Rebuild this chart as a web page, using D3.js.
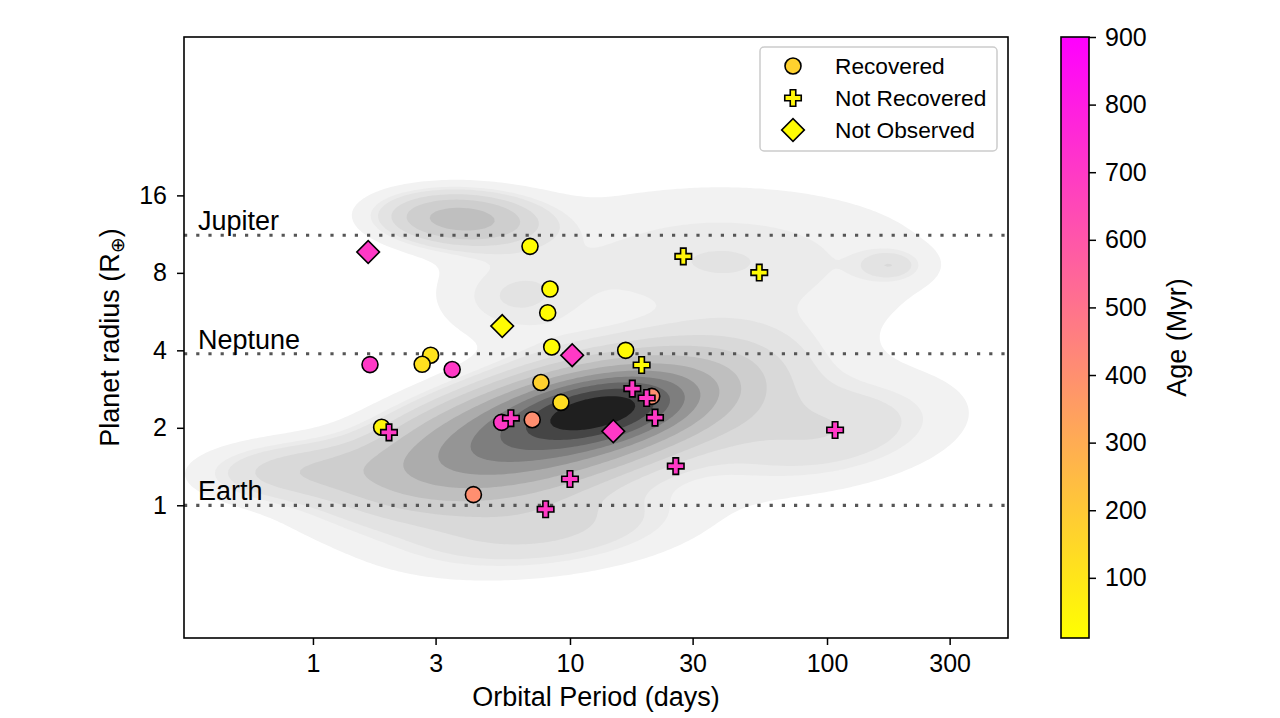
<!DOCTYPE html>
<html><head><meta charset="utf-8">
<script src="https://cdn.jsdelivr.net/npm/d3@7"></script>
<style>
body{margin:0;background:#fff}
text{font-family:"Liberation Sans",Arial,Helvetica,sans-serif;fill:#000}
</style>
</head><body>
<svg id="chart" width="1280" height="718"></svg>
<script>
// ---------------- data ----------------
const periodTicks = [1, 3, 10, 30, 100, 300];
const radiusTicks = [1, 2, 4, 8, 16];
const ageTicks = [100, 200, 300, 400, 500, 600, 700, 800, 900];
const ageRange = [11, 900];
const periodDomain = [0.315, 506];
const radiusDomain = [0.305, 66];

const refNames = ["Jupiter", "Neptune", "Earth"];
const refRadii = [11.2, 3.88, 1.0];

// Recovered (circles)
const recPeriod = [7.71, 6.99, 8.36, 8.19, 8.49, 16.47, 9.22, 2.87, 2.66, 1.667, 3.48, 1.85, 5.42, 7.13, 4.21, 20.8];
const recRadius = [3.00, 10.14, 6.92, 5.60, 4.12, 4.00, 2.51, 3.83, 3.53, 3.52, 3.37, 2.01, 2.10, 2.15, 1.10, 2.65];
const recAge    = [170, 20, 20, 22, 20, 25, 130, 110, 120, 700, 700, 45, 700, 400, 400, 400];

// Not recovered (crosses)
const nrecPeriod = [27.6, 54.5, 19.0, 1.976, 5.89, 10.0, 8.04, 17.48, 19.88, 21.42, 25.8, 107.5];
const nrecRadius = [9.27, 8.02, 3.51, 1.92, 2.18, 1.265, 0.965, 2.84, 2.61, 2.19, 1.42, 1.96];
const nrecAge    = [45, 25, 25, 700, 700, 700, 700, 700, 700, 700, 700, 700];

// Not observed (diamonds)
const nobsPeriod = [5.45, 1.64, 10.2, 14.74];
const nobsRadius = [4.97, 9.64, 3.83, 1.94];
const nobsAge    = [20, 700, 700, 700];

// Background population density (components)
const kdePeriod  = [13.1, 8.8, 0.81, 3.73, 38.4, 176, 7.64, 100, 5.84];
const kdeRadius  = [2.34, 2.0, 1.37, 13.0, 8.95, 8.56, 0.80, 1.92, 6.26];
const kdeSigU    = [0.192, 0.43, 0.25, 0.20, 0.60, 0.08, 0.40, 0.35, 0.20];
const kdeSigW    = [0.077, 0.17, 0.08, 0.07, 0.21, 0.04, 0.12, 0.15, 0.12];
const kdeRho     = [0.38, 0.6, 0.1, -0.1, 0.0, 0.0, 0.3, 0.3, 0.0];
const kdeWeight  = [0.25, 1.0, 0.05, 0.08, 0.22, 0.005, 0.12, 0.12, 0.03];
const kdeLevels = 13, kdeThresh = 0.05;

// ---------------- layout ----------------
const svg = d3.select("#chart");
const L = 184, R = 1008, T = 37, B = 638;
const x = d3.scaleLog().domain(periodDomain).range([L, R]);
const y = d3.scaleLog().domain(radiusDomain).range([B, T]);
const ageColor = d3.scaleLinear().domain(ageRange).range(["#ffff00", "#ff00ff"]);

svg.append("defs").append("clipPath").attr("id", "plotclip")
  .append("rect").attr("x", L).attr("y", T).attr("width", R - L).attr("height", B - T);

// ---------------- KDE ----------------
const nx = 240, ny = 180;
const u0 = Math.log10(periodDomain[0]), u1 = Math.log10(periodDomain[1]);
const w0 = Math.log10(radiusDomain[0]), w1 = Math.log10(radiusDomain[1]);
const du = (u1 - u0) / (nx - 1), dw = (w1 - w0) / (ny - 1);
const values = new Float64Array(nx * ny);
for (let j = 0; j < ny; j++) {
  const w = w0 + j * dw;
  for (let i = 0; i < nx; i++) {
    const u = u0 + i * du;
    let s = 0;
    for (let k = 0; k < kdePeriod.length; k++) {
      const a = (u - Math.log10(kdePeriod[k])) / kdeSigU[k];
      const b = (w - Math.log10(kdeRadius[k])) / kdeSigW[k];
      const r = kdeRho[k];
      const q = (a * a - 2 * r * a * b + b * b) / (1 - r * r);
      s += kdeWeight[k] / (kdeSigU[k] * kdeSigW[k] * Math.sqrt(1 - r * r)) * Math.exp(-q / 2);
    }
    values[i + j * nx] = s;
  }
}
// iso-proportion levels
const sortedVals = Array.from(values).sort((a, b) => b - a);
const total = d3.sum(sortedVals);
const cum = []; let acc = 0;
for (const v of sortedVals) { acc += v; cum.push(acc / total); }
const props = d3.range(kdeLevels).map(i => kdeThresh + (1 - kdeThresh) * i / (kdeLevels - 1));
const levels = props.map(p => {
  const target = 1 - p;
  let idx = d3.bisectLeft(cum, target);
  idx = Math.min(idx, sortedVals.length - 1);
  return sortedVals[idx];
});
const bandLevels = levels.slice(0, -1);
const nBands = bandLevels.length;
const lMin = levels[0], lMax = levels[levels.length - 1];
const contours = d3.contours().size([nx, ny]).thresholds(bandLevels)(values);
const proj = d3.geoTransform({
  point(gx, gy) {
    const u = u0 + (gx - 0.5) * du, w = w0 + (gy - 0.5) * dw;
    this.stream.point(x(Math.pow(10, u)), y(Math.pow(10, w)));
  }
});
const gpath = d3.geoPath(proj);
svg.append("g").attr("clip-path", "url(#plotclip)")
  .selectAll("path").data(contours).join("path")
  .attr("d", gpath)
  .attr("fill", (d, i) => {
    const byIndex = i / (nBands - 1);
    const byDensity = ((levels[i] + levels[i + 1]) / 2 - lMin) / (lMax - lMin);
    return d3.interpolateGreys(0.1 + 0.84 * (0.5 * byIndex + 0.5 * byDensity));
  })
  .attr("stroke", "none");

// ---------------- reference lines ----------------
const gref = svg.append("g");
refNames.forEach((n, i) => {
  gref.append("line").attr("x1", L).attr("x2", R)
    .attr("y1", y(refRadii[i])).attr("y2", y(refRadii[i]))
    .attr("stroke", "#555").attr("stroke-width", 3.2).attr("stroke-dasharray", "3.2 9");
  gref.append("text").attr("x", 198).attr("y", y(refRadii[i]) - 5)
    .attr("font-size", 27).text(n);
});

// ---------------- markers ----------------
const crossPath = d3.symbol(d3.symbolCross, 151)();
const diamondPath = d3.symbol(d3.symbolSquare, 256)();
const gm = svg.append("g").attr("clip-path", "url(#plotclip)");
gm.selectAll("circle").data(d3.range(recPeriod.length)).join("circle")
  .attr("cx", i => x(recPeriod[i])).attr("cy", i => y(recRadius[i])).attr("r", 8)
  .attr("fill", i => ageColor(recAge[i])).attr("stroke", "#000").attr("stroke-width", 1.6);
gm.selectAll("path.cross").data(d3.range(nrecPeriod.length)).join("path").attr("class", "cross")
  .attr("d", crossPath)
  .attr("transform", i => `translate(${x(nrecPeriod[i])},${y(nrecRadius[i])})`)
  .attr("fill", i => ageColor(nrecAge[i])).attr("stroke", "#000").attr("stroke-width", 1.6);
gm.selectAll("path.dia").data(d3.range(nobsPeriod.length)).join("path").attr("class", "dia")
  .attr("d", diamondPath)
  .attr("transform", i => `translate(${x(nobsPeriod[i])},${y(nobsRadius[i])}) rotate(45)`)
  .attr("fill", i => ageColor(nobsAge[i])).attr("stroke", "#000").attr("stroke-width", 1.6);

// ---------------- axes ----------------
const xAxis = d3.axisBottom(x).tickValues(periodTicks).tickFormat(d3.format("d")).tickSizeOuter(0).tickSize(7).tickPadding(9);
const gx = svg.append("g").attr("transform", `translate(0,${B})`).call(xAxis);
const yAxis = d3.axisLeft(y).tickValues(radiusTicks).tickFormat(d3.format("d")).tickSizeOuter(0).tickSize(7).tickPadding(10);
const gy = svg.append("g").attr("transform", `translate(${L},0)`).call(yAxis);
[gx, gy].forEach(g => {
  g.select(".domain").remove();
  g.selectAll(".tick line").attr("stroke", "#000").attr("stroke-width", 1.5);
  g.selectAll(".tick text").attr("font-size", 25).attr("font-family", "Liberation Sans, Arial, sans-serif").attr("fill", "#000");
});
svg.append("rect").attr("x", L).attr("y", T).attr("width", R - L).attr("height", B - T)
  .attr("fill", "none").attr("stroke", "#000").attr("stroke-width", 1.6);

svg.append("text").attr("x", (L + R) / 2).attr("y", 706).attr("text-anchor", "middle")
  .attr("font-size", 27).text("Orbital Period (days)");
const yl = svg.append("text").attr("transform", `translate(119,${(T + B) / 2}) rotate(-90)`)
  .attr("text-anchor", "middle").attr("font-size", 27);
yl.append("tspan").text("Planet radius (R");
yl.append("tspan").attr("font-size", 19).attr("dy", 5).attr("font-family", "DejaVu Sans").text("⊕");
yl.append("tspan").attr("dy", -5).text(")");

// ---------------- legend ----------------
const lg = svg.append("g");
lg.append("rect").attr("x", 760).attr("y", 47).attr("width", 237).attr("height", 104).attr("rx", 4)
  .attr("fill", "#fff").attr("fill-opacity", 0.8).attr("stroke", "#cccccc").attr("stroke-width", 1.5);
const legendNames = ["Recovered", "Not Recovered", "Not Observed"];
const legendColors = [ageColor(recAge[0]), ageColor(nrecAge[0]), ageColor(nobsAge[0])];
legendNames.forEach((n, i) => {
  const cy = 66 + i * 32;
  if (i === 0) lg.append("circle").attr("cx", 793).attr("cy", cy).attr("r", 8);
  else if (i === 1) lg.append("path").attr("d", crossPath).attr("transform", `translate(793,${cy})`);
  else lg.append("path").attr("d", diamondPath).attr("transform", `translate(793,${cy}) rotate(45)`);
  lg.selectAll(":scope > :last-child").attr("fill", legendColors[i]).attr("stroke", "#000").attr("stroke-width", 1.6);
  lg.append("text").attr("x", 835).attr("y", cy + 8).attr("font-size", 22.7).text(n);
});

// ---------------- colorbar ----------------
const cbX = 1061, cbW = 28;
const cy = d3.scaleLinear().domain(ageRange).range([B, T]);
const grad = svg.select("defs").append("linearGradient").attr("id", "cbgrad")
  .attr("x1", 0).attr("y1", 1).attr("x2", 0).attr("y2", 0);
grad.append("stop").attr("offset", 0).attr("stop-color", ageColor(ageRange[0]));
grad.append("stop").attr("offset", 1).attr("stop-color", ageColor(ageRange[1]));
svg.append("rect").attr("x", cbX).attr("y", T).attr("width", cbW).attr("height", B - T)
  .attr("fill", "url(#cbgrad)").attr("stroke", "#000").attr("stroke-width", 1.6);
const cAxis = d3.axisRight(cy).tickValues(ageTicks).tickSize(7).tickPadding(9).tickSizeOuter(0);
const gc = svg.append("g").attr("transform", `translate(${cbX + cbW},0)`).call(cAxis);
gc.select(".domain").remove();
gc.selectAll(".tick line").attr("stroke", "#000").attr("stroke-width", 1.5);
gc.selectAll(".tick text").attr("font-size", 25).attr("font-family", "Liberation Sans, Arial, sans-serif").attr("fill", "#000");
svg.append("text").attr("transform", `translate(1186,${(T + B) / 2}) rotate(-90)`)
  .attr("text-anchor", "middle").attr("font-size", 27).text("Age (Myr)");
</script>
</body></html>
